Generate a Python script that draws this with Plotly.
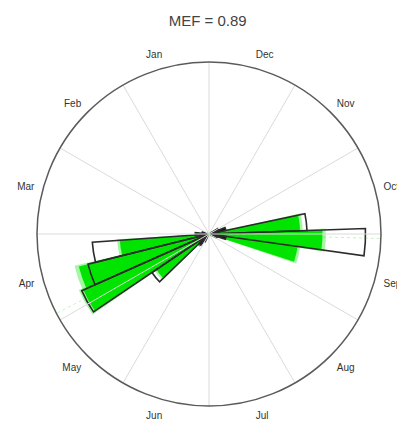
import plotly.graph_objects as go

# Month labels, placed counterclockwise starting just left of the top
months = ["Jan", "Feb", "Mar", "Apr", "May", "Jun",
          "Jul", "Aug", "Sep", "Oct", "Nov", "Dec"]
month_theta = [(105 + 30 * i) % 360 for i in range(12)]

# Circular histogram bins (degrees) and relative frequencies
bin_theta = [-23, -13, -3, 7, 17, 27, 169, 179, 189, 199, 209, 219, 229, 239]
obs_freq = [0.05, 0.10, 0.91, 0.57, 0.10, 0.06, 0.04, 0.08, 0.68, 0.725, 0.81, 0.40, 0.08, 0.05]
sim_freq = [0.05, 0.52, 0.66, 0.53, 0.10, 0.05, 0.04, 0.08, 0.52, 0.78, 0.80, 0.37, 0.09, 0.05]

# Mean directions of the simulated series (shown on the rim)
mean_theta = [-1.5, 207.5]
mean_r = [1.01, 1.01]

bin_width = 10
spoke_theta = list(range(0, 180, 30))

fig = go.Figure()

# Light radial spokes every 30 degrees
for a in spoke_theta:
    fig.add_trace(go.Scatterpolar(
        r=[1, 0, 1], theta=[a, a, a + 180], mode="lines",
        line=dict(color="#dadada", width=1), hoverinfo="skip", showlegend=False))

# Faint guide from the centre towards each mean direction
for t in mean_theta:
    fig.add_trace(go.Scatterpolar(
        r=[0, 1.01], theta=[t, t], mode="lines",
        line=dict(color="rgba(0,220,0,0.25)", width=1, dash="dot"),
        hoverinfo="skip", showlegend=False))

# Simulated distribution: soft halo plus solid green fill
fig.add_trace(go.Barpolar(
    r=[v * 1.03 for v in sim_freq], theta=bin_theta, width=[bin_width + 1.5] * len(bin_theta),
    marker=dict(color="rgba(0,230,0,0.35)", line=dict(width=0)),
    showlegend=False))
fig.add_trace(go.Barpolar(
    r=sim_freq, theta=bin_theta, width=[bin_width] * len(bin_theta),
    marker=dict(color="rgb(0,228,0)", line=dict(width=0)),
    showlegend=False))

# Observed distribution: black outlines; tiny bins merge into a dark core
obs_fill = ["#111" if v < 0.15 else "rgba(0,0,0,0)" for v in obs_freq]
fig.add_trace(go.Barpolar(
    r=obs_freq, theta=bin_theta, width=[bin_width] * len(bin_theta),
    marker=dict(color=obs_fill, line=dict(color="#2b2b2b", width=1.6)),
    showlegend=False))

# Mean direction markers
fig.add_trace(go.Scatterpolar(
    r=mean_r, theta=mean_theta, mode="markers",
    marker=dict(color="rgba(0,225,0,0.85)", size=7),
    showlegend=False))

fig.update_layout(
    width=397, height=423,
    margin=dict(l=37, r=16, t=62, b=17),
    paper_bgcolor="white",
    font=dict(family="Liberation Sans, Arial, sans-serif", color="#333"),
    title=dict(text="MEF = 0.89", x=0.523, xanchor="center", y=0.952, yanchor="middle",
               font=dict(size=15, color="#444")),
    polar=dict(
        bgcolor="white",
        barmode="overlay",
        radialaxis=dict(range=[0, 1], visible=False),
        angularaxis=dict(
            rotation=0, direction="counterclockwise",
            tickmode="array", tickvals=month_theta, ticktext=months,
            showgrid=False, ticks="outside", ticklen=6, tickcolor="rgba(0,0,0,0)",
            tickfont=dict(size=10, color="#333"),
            showline=True, linecolor="#5a5a5a", linewidth=1.5,
        ),
    ),
)

fig.write_html("out.html")
